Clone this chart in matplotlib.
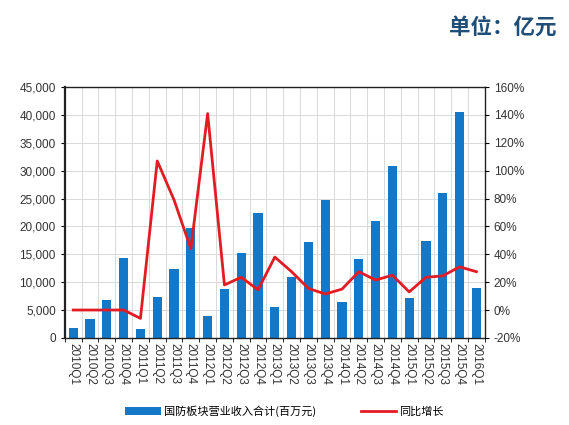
import matplotlib
matplotlib.use("Agg")
import matplotlib.pyplot as plt
import numpy as np
from matplotlib.ticker import FuncFormatter, MultipleLocator

plt.rcParams['font.family'] = ['Liberation Sans', 'Noto Sans CJK SC', 'DejaVu Sans']

quarters = ["2010Q1", "2010Q2", "2010Q3", "2010Q4",
            "2011Q1", "2011Q2", "2011Q3", "2011Q4",
            "2012Q1", "2012Q2", "2012Q3", "2012Q4",
            "2013Q1", "2013Q2", "2013Q3", "2013Q4",
            "2014Q1", "2014Q2", "2014Q3", "2014Q4",
            "2015Q1", "2015Q2", "2015Q3", "2015Q4",
            "2016Q1"]
revenue = [1700, 3400, 6800, 14300,
           1600, 7300, 12400, 19800,
           4000, 8700, 15300, 22500,
           5500, 11000, 17200, 24700,
           6400, 14100, 20900, 30900,
           7100, 17400, 26000, 40500,
           9000]
yoy_pct = [0, 0, 0, 0,
           -6, 107, 79, 44,
           141, 18, 23.5, 14.5,
           38, 27.5, 15.5, 11.5,
           15, 27.5, 21.5, 25,
           13, 23.5, 24.5, 31,
           27.5]

bar_label = "国防板块营业收入合计(百万元)"
line_label = "同比增长"
cjk = ['Noto Sans CJK SC', 'DejaVu Sans']

fig = plt.figure(figsize=(5.69, 4.25), dpi=100)
ax = fig.add_axes([0.114, 0.205, 0.738, 0.59])
x = np.arange(len(quarters))

bars = ax.bar(x, revenue, width=0.55, color="#1478c8", zorder=2, label=bar_label)
ax.set_xlim(-0.5, len(quarters) - 0.5)
ax.set_ylim(0, 45000)
ax.yaxis.set_major_locator(MultipleLocator(5000))
ax.yaxis.set_major_formatter(FuncFormatter(lambda v, p: f"{int(v):,}"))
ax.set_xticks(x)
ax.set_xticklabels(quarters, rotation=270, fontsize=8.5, color="#333333")
ax.set_xticks(np.arange(-0.5, len(quarters), 1), minor=True)
ax.tick_params(axis="x", which="major", length=0, pad=4)
ax.tick_params(axis="x", which="minor", length=3, direction="out")
ax.tick_params(axis="y", labelsize=8.5, labelcolor="#333333", length=3)
ax.grid(True, axis="y", which="major", color="#d9d9d9", lw=0.7, zorder=0)
ax.grid(True, axis="x", which="minor", color="#d9d9d9", lw=0.7, zorder=0)
for s in ax.spines.values():
    s.set_color("#222222")
    s.set_linewidth(1.0)
ax.spines["left"].set_linewidth(1.6)

ax2 = ax.twinx()
line, = ax2.plot(x, yoy_pct, color="#e31b23", lw=2.0, zorder=3, label=line_label)
ax2.set_ylim(-20, 160)
ax2.yaxis.set_major_locator(MultipleLocator(20))
ax2.yaxis.set_major_formatter(FuncFormatter(lambda v, p: f"{int(round(v))}%"))
ax2.tick_params(axis="y", labelsize=8.5, labelcolor="#333333", length=3)
for s in ax2.spines.values():
    s.set_visible(False)

fig.text(0.978, 0.935, "单位：亿元", ha="right", va="center", family=cjk,
         fontsize=15.5, fontweight="bold", color="#1f4e79")

fig.legend([bars, line], [bar_label, line_label], loc="center",
           bbox_to_anchor=(0.5, 0.033), ncol=2, frameon=False,
           prop={'family': cjk, 'size': 8},
           handlelength=3.2, columnspacing=4, handletextpad=0.3)

fig.savefig("out.png", dpi=100)
